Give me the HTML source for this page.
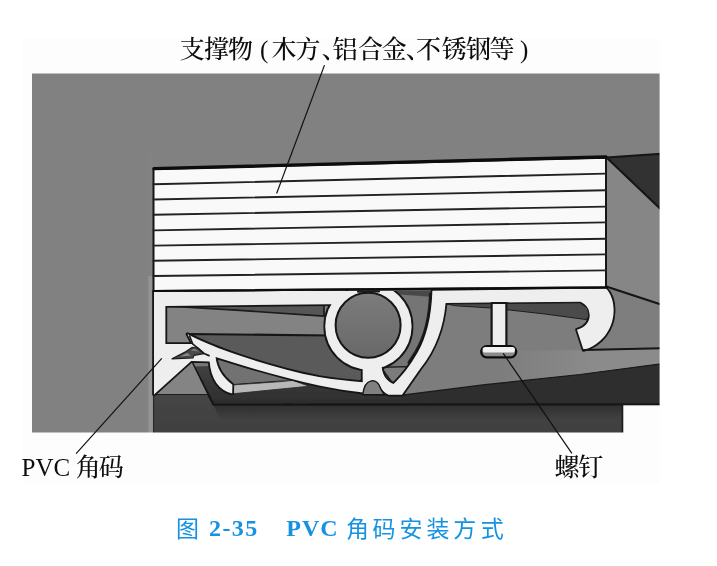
<!DOCTYPE html>
<html lang="zh-CN">
<head>
<meta charset="utf-8">
<title>图 2-35 PVC 角码安装方式</title>
<style>
html,body{margin:0;padding:0;background:#fff;}
body{width:717px;height:566px;overflow:hidden;position:relative;}
svg{position:absolute;left:0;top:0;display:block;}
.lab{font-family:"Liberation Serif","Noto Serif CJK SC",serif;font-size:25px;font-weight:500;fill:#0c0c0c;}
.lat{font-family:"Liberation Serif","Noto Serif CJK SC",serif;font-size:25px;fill:#111;}
.cap{font-family:"Liberation Sans","Noto Sans CJK SC",sans-serif;font-size:23px;font-weight:400;fill:#1492e2;}
.capb{font-family:"Liberation Serif","Noto Serif CJK SC",serif;font-weight:bold;font-size:24px;fill:#1492e2;}
</style>
</head>
<body>
<svg width="717" height="566" viewBox="0 0 717 566">
  <defs>
    <clipPath id="img"><rect x="32" y="73.5" width="627.6" height="358.9"/></clipPath>
    <clipPath id="ringclip"><rect x="300" y="291" width="140" height="110"/></clipPath>
    <filter id="tsoft" x="-2%" y="-20%" width="104%" height="140%"><feGaussianBlur stdDeviation="0.4"/></filter>
    <filter id="soft" x="-2%" y="-2%" width="104%" height="104%"><feGaussianBlur stdDeviation="0.65"/></filter>
    <linearGradient id="cyl" x1="0" y1="0" x2="0" y2="1">
      <stop offset="0" stop-color="#7c7c7c"/><stop offset="1" stop-color="#686868"/>
    </linearGradient>
    <linearGradient id="band" x1="0" y1="0" x2="0" y2="1">
      <stop offset="0" stop-color="#444"/><stop offset="1" stop-color="#2c2c2c"/>
    </linearGradient>
    <linearGradient id="low" x1="0" y1="0" x2="0" y2="1">
      <stop offset="0" stop-color="#454545"/><stop offset="1" stop-color="#404040"/>
    </linearGradient>
    <linearGradient id="lite" x1="0" y1="0" x2="1" y2="0">
      <stop offset="0" stop-color="#8b8b8b" stop-opacity="0"/><stop offset="0.6" stop-color="#8b8b8b" stop-opacity="1"/>
    </linearGradient>
    <linearGradient id="shade" x1="0" y1="0" x2="0" y2="1">
      <stop offset="0" stop-color="#000" stop-opacity="0.3"/><stop offset="1" stop-color="#000" stop-opacity="0"/>
    </linearGradient>
  </defs>
  <!-- off-white scan panel -->
  <rect x="22" y="38" width="638" height="445" fill="#fdfdfd"/>
  <g clip-path="url(#img)">
  <g filter="url(#soft)" stroke-linejoin="round" stroke-linecap="round">
    <!-- background -->
    <rect x="28" y="70" width="636" height="366" fill="#818181"/>
    <!-- subtle vertical strip left of block -->
    <rect x="148.3" y="150" width="4.2" height="130" fill="#838383"/>
    <rect x="148.3" y="276" width="4.4" height="160" fill="#949494"/>

    <!-- right side face + dark triangle -->
    <polygon points="606,158 661,209 661,305 606,287" fill="#868686"/>
    <polygon points="606.5,157.5 661,153.8 661,209.5" fill="#303030" stroke="#141414" stroke-width="2"/>
    <!-- region right of hook -->
    <polygon points="600,286.5 607,286.5 661,305 661,349 583,350" fill="#7e7e7e"/>
    <line x1="607" y1="286.8" x2="661" y2="304.5" stroke="#141414" stroke-width="2.2"/>

    <!-- bracket interior base gray -->
    <polygon points="153.5,291 607,287 607,350 661,348 661,400 153.5,400" fill="#7d7d7d"/>

    <polygon points="500,351 583,350 661,348.2 661,364 580,375 500,383" fill="url(#lite)"/>
    <!-- inner left rectangle and dark wedge -->
    <polygon points="165,306 325,304 325,336 165,344" fill="#838383"/>
    <polygon points="166,306 324,304.5 324,316.2 240,310.4" fill="#575757" stroke="#1a1a1a" stroke-width="1.7"/>

    <!-- gap between ring and V -->
    <polygon points="380,290 433,290 432,313 427,334 417,352 408,367 380,367" fill="#747474"/>
    <polygon points="392,290.5 433,290.5 433,297 400,294.5" fill="#4a4a4a"/>
    <path d="M430.2,294 C429.4,318 424.4,337 415.6,351.6 L408.6,362.6" fill="none" stroke="#1c1c1c" stroke-width="2.4"/>
    <polygon points="381,367.3 409,366.6 393.5,384.5" fill="#7c7c7c" stroke="#1c1c1c" stroke-width="1.4"/>

    <!-- blade (dark) -->
    <path d="M187,334 L330,335.5 L340,350 L352,362 L358,367 C363,368 363.5,372 363.2,375 C363,379 362,382 357,381.8 C348,381 334,379.5 319,377 C292,371.8 262,363.4 235,354 C222,349.5 205,343 187.5,334.2 Z" fill="#5a5a5a" stroke="#161616" stroke-width="2.2"/>

    <!-- lower dark body -->
    <rect x="153.5" y="394" width="469" height="42" fill="url(#low)"/>
    <polygon points="213.4,405 622,405 622,421 221,421" fill="url(#shade)"/>
    <line x1="153.6" y1="394" x2="153.6" y2="434" stroke="#2a2a2a" stroke-width="1.2"/>
    <!-- dark plate under the arm, merging into the dark band -->
    <path d="M191.2,361 L211,362 L235,363 C262,371.6 292,379.6 319,385.4 L363,392.6 L363,395 L402,395.2 L485,384.7 L580,374.5 L661,363.8 L661,405.2 L213.4,405.2 Z" fill="url(#band)"/>
    <polygon points="192,361.4 210,362 210.6,366 195,366.6" fill="#858585" opacity="0.8"/>
    <polygon points="402,395.2 485,384.7 580,374.5 661,363.8 661,405 402,405" fill="#2e2e2e"/>
    <polyline points="363,395 402,395.2 485,384.7 580,374.5 661,363.8" fill="none" stroke="#1a1a1a" stroke-width="1.2"/>
    <polyline points="191.2,361 213.4,404.6 661,404.4" fill="none" stroke="#161616" stroke-width="2.2"/>
    <line x1="153.5" y1="394.4" x2="206" y2="394.4" stroke="#1c1c1c" stroke-width="1.3"/>
    <!-- plate right of leg -->
    <polygon points="215.6,357 235,363 263,371.4 291,379 300,381.5 281,381 235,384.4 232.4,384.6 222.6,376 217,366" fill="#727272" stroke="#1c1c1c" stroke-width="1"/>
    <!-- light strip -->
    <polygon points="232.4,385 281,381.6 293,380.4 309,386.2 232.4,393.8" fill="#b8b8b8" stroke="#2a2a2a" stroke-width="0.8"/>
    <!-- lower-left gray triangle -->
    <polygon points="155,394 191.2,361.4 207,394" fill="#848484"/>
    <rect x="623.2" y="405.4" width="40" height="30" fill="#fdfdfd"/>
    <line x1="622.4" y1="405" x2="622.4" y2="434" stroke="#1a1a1a" stroke-width="1.6"/>

    <!-- PVC bracket -->
    <g fill="none" stroke="#141414" stroke-width="3.6">
  <path d="M154,291.8 L346,290.6 L332,304.2 L165.4,306 L165.4,344 L192.5,344 L187.5,334.2 C205,343 222,349.5 235,354 C262,363.4 292,371.8 319,377 C334,379.5 348,381 363,382.2 L363,392.6 C347,390.6 333,388.2 319,385.4 C292,379.6 262,371.6 235,363 L215.6,357 C216.5,367 222,377 232.4,384.8 L232.2,393.4 C219,390.5 211,379 209.6,361.5 L191.2,361 L154,394.4 Z"/>
  <path d="M362.6,364 L381.5,364 C381.6,374 386,381 393.5,384 C401,377 410,366 417.9,352 C426,338 431.5,318 432.4,290.8 L606,288.4 C611.5,294 614,303 613.6,312 C613,330 601,345 583.6,350 L577,329.8 C585.5,327.5 590,321.5 589.6,315 C589.2,308.5 585.5,303.6 580,301.8 L445.6,302.9 C443.5,327 436,349 420,369 L402,394.8 L388.5,394.8 C384,392.5 381.5,389.5 380.3,386.5 C377,378.6 366,378.6 362.8,392.6 Z"/>
  <g clip-path="url(#ringclip)"><circle cx="368.4" cy="326.4" r="43.2"/></g>
</g>

    <g fill="#eeeeee" stroke="none">
  <path d="M154,291.8 L346,290.6 L332,304.2 L165.4,306 L165.4,344 L192.5,344 L187.5,334.2 C205,343 222,349.5 235,354 C262,363.4 292,371.8 319,377 C334,379.5 348,381 363,382.2 L363,392.6 C347,390.6 333,388.2 319,385.4 C292,379.6 262,371.6 235,363 L215.6,357 C216.5,367 222,377 232.4,384.8 L232.2,393.4 C219,390.5 211,379 209.6,361.5 L191.2,361 L154,394.4 Z"/>
  <path d="M362.6,364 L381.5,364 C381.6,374 386,381 393.5,384 C401,377 410,366 417.9,352 C426,338 431.5,318 432.4,290.8 L606,288.4 C611.5,294 614,303 613.6,312 C613,330 601,345 583.6,350 L577,329.8 C585.5,327.5 590,321.5 589.6,315 C589.2,308.5 585.5,303.6 580,301.8 L445.6,302.9 C443.5,327 436,349 420,369 L402,394.8 L388.5,394.8 C384,392.5 381.5,389.5 380.3,386.5 C377,378.6 366,378.6 362.8,392.6 Z"/>
  <g clip-path="url(#ringclip)"><circle cx="368.4" cy="326.4" r="43.2"/></g>
</g>

    <!-- cylinder -->
    <circle cx="368.1" cy="325.3" r="32.5" fill="url(#cyl)" stroke="#141414" stroke-width="2"/>
    <line x1="358" y1="291.6" x2="379" y2="291.4" stroke="#1a1a1a" stroke-width="2.2"/>
    <!-- notch -->
    <path d="M362.8,394.4 C364.5,377.5 378,377.5 380.3,388 L384,394.6 Z" fill="#808080" stroke="#161616" stroke-width="1.3"/>
    <!-- barb -->
    <polygon points="172,358.8 186,351.6 192,347.4 198,348 204,353.6 194,355.4 193,358" fill="#4a4a4a" stroke="#1e1e1e" stroke-width="1.2"/>
    <path d="M189.6,336 L192.6,343.8 L198.4,348.6 L204.6,353.8 L209,355.6" fill="none" stroke="#1a1a1a" stroke-width="1.7"/>
    <polygon points="180,356.4 187,353 191,355.6" fill="#8a8a8a"/>
    <polygon points="191,350.6 194,348.6 199,351.4" fill="#808080"/>

    <!-- dark wedge below right bar -->
    <path d="M447,304 L580,302.8 L587.6,308.4 L588.8,316 L586.6,319.6 L545,314 L492,308 L456,305.8 Z" fill="#4c4c4c" stroke="#1c1c1c" stroke-width="1"/>
    <!-- screw -->
    <rect x="491.6" y="303" width="14.8" height="44" fill="#eeeeee" stroke="#141414" stroke-width="2.2"/>
    <rect x="481.2" y="346.2" width="35" height="11.2" rx="5.6" ry="5.6" fill="#8a8a8a" stroke="#111" stroke-width="2.3"/>
    <rect x="482.6" y="347" width="32.4" height="5.6" rx="2.8" fill="#f0f0f0"/>
    <!-- hook bottom line -->
    <line x1="583.4" y1="350" x2="661" y2="348.2" stroke="#141414" stroke-width="2"/>

    <!-- white block -->
    <polygon points="153.5,169 606,157.5 606,287.5 153.5,291" fill="#f9f9f9" stroke="#161616" stroke-width="2"/>
    <g stroke="#222" stroke-width="1.9" fill="none">
  <line x1="153.5" y1="184.3" x2="606" y2="173.6"/>
  <line x1="153.5" y1="199.5" x2="606" y2="190.2"/>
  <line x1="153.5" y1="214.8" x2="606" y2="206.6"/>
  <line x1="153.5" y1="230.4" x2="606" y2="222.4"/>
  <line x1="153.5" y1="245.6" x2="606" y2="238.8"/>
  <line x1="153.5" y1="260.8" x2="606" y2="254.4"/>
  <line x1="153.5" y1="276.0" x2="606" y2="270.4"/>
</g>

    <line x1="154" y1="168.6" x2="606" y2="157" stroke="#0c0c0c" stroke-width="3.4"/>
    <line x1="153.5" y1="291" x2="607" y2="287.3" stroke="#111" stroke-width="2.2"/>
  </g>
  </g>
  <!-- leader lines -->
  <g stroke="#111" stroke-width="1.2" fill="none">
    <line x1="324.5" y1="65.1" x2="276.6" y2="193.5"/>
    <line x1="76.1" y1="453.7" x2="161.8" y2="358.4"/>
    <line x1="571.9" y1="453.4" x2="503.2" y2="353.4"/>
  </g>
  <!-- labels -->
  <g filter="url(#tsoft)">
    <text class="lab" x="179.7 203.9 227.9 259.9 271.4 295.6 321.7 332.4 358.1 381.8 405.8 416.1 441.8 466.0 489.6 520.0" y="58.2">支撑物(木方、铝合金、不锈钢等)</text>
    <text class="lab" y="476.2"><tspan class="lat" x="21.6" y="475.6">PVC</tspan> <tspan x="75.8 98.8" y="476.2">角码</tspan></text>
    <text class="lab" x="554.4 578.2" y="476.2">螺钉</text>
    <text class="cap" y="537.4"><tspan x="176.1">图</tspan> <tspan class="capb" x="209" y="536" letter-spacing="1.4">2-35</tspan> <tspan class="capb" x="286.3" y="536" letter-spacing="1">PVC</tspan> <tspan x="346.0 372.4 399.6 426.4 453.3 480.8" y="537.4">角码安装方式</tspan></text>
  </g>
</svg>
</body>
</html>
